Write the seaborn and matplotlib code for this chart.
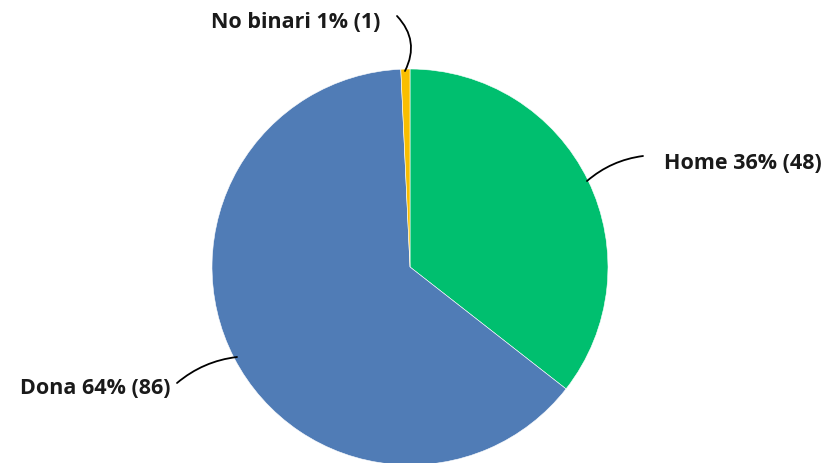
import matplotlib
matplotlib.use("Agg")
import matplotlib.pyplot as plt
import seaborn as sns

categories = ["Home", "Dona", "No binari"]
counts = [48, 86, 1]
percents = [36, 64, 1]
colors = ["#00BF6F", "#507CB6", "#F9BE00"]

sns.set_theme(style="white")
plt.rcParams["font.family"] = ["Open Sans", "DejaVu Sans"]

W, H = 832, 464
fig = plt.figure(figsize=(W / 100, H / 100), dpi=100)
cx, cy, R = 410, 268, 198
ax = fig.add_axes([(cx - R) / W, (H - cy - R) / H, 2 * R / W, 2 * R / H])
ax.pie(counts, colors=colors, startangle=90, counterclock=False, radius=1,
       wedgeprops=dict(edgecolor="white", linewidth=0.4))
ax.set_xlim(-1, 1)
ax.set_ylim(-1, 1)
ax.set_aspect("equal")
ax.axis("off")

def d(px, py):
    return ((px - cx) / R, (cy - py) / R)

labels = [f"{c} {p}% ({n})" for c, p, n in zip(categories, percents, counts)]
# (text anchor px, ha, line start px, line end px, rad)
specs = [
    ((664, 164), "left", (643, 157), (587, 182), 0.15),
    ((170, 389), "right", (177, 384), (237, 358), -0.15),
    ((380, 22), "right", (397, 17), (405, 72), -0.35),
]
for lab, (tp, ha, ls, le, rad) in zip(labels, specs):
    ax.text(*d(*tp), lab, ha=ha, va="center", fontsize=15.5, fontweight="bold",
            color="#1a1a1a", clip_on=False)
    ax.annotate("", xy=d(*le), xytext=d(*ls),
                arrowprops=dict(arrowstyle="-", color="black", lw=1.3,
                                connectionstyle=f"arc3,rad={rad}",
                                shrinkA=0, shrinkB=0),
                annotation_clip=False)

fig.savefig("out.png", dpi=100)
